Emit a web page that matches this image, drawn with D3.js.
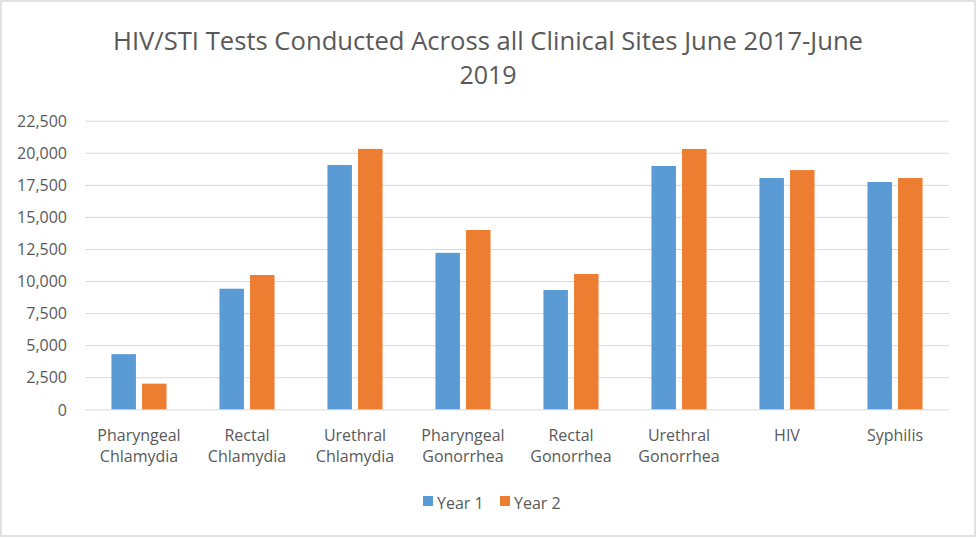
<!DOCTYPE html>
<html lang="en">
<head>
    <meta charset="UTF-8">
    <title>HIV/STI Tests</title>
    <script src="https://cdnjs.cloudflare.com/ajax/libs/d3/7.8.5/d3.min.js"></script>
    <style>
        body { margin: 0; background: #fff; }
        text { font-family: "Open Sans", sans-serif; fill: #595959; }
    </style>
</head>
<body>
<svg id="chart" width="977" height="539"></svg>

<script>

    // DATA
    var categories = [
        ["Pharyngeal", "Chlamydia"],
        ["Rectal", "Chlamydia"],
        ["Urethral", "Chlamydia"],
        ["Pharyngeal", "Gonorrhea"],
        ["Rectal", "Gonorrhea"],
        ["Urethral", "Gonorrhea"],
        ["HIV"],
        ["Syphilis"]
    ];
    var seriesNames = ["Year 1", "Year 2"];
    var year1 = [4300, 9400, 19050, 12200, 9300, 18970, 18030, 17720];
    var year2 = [2000, 10470, 20300, 13980, 10550, 20300, 18650, 18030];
    var yTicks = [0, 2500, 5000, 7500, 10000, 12500, 15000, 17500, 20000, 22500];
    var colors = ["#5b9bd5", "#ed7d31"];

    var svg = d3.select("#chart");

    // plot area
    var plotLeft = 85, plotRight = 949, plotTop = 120.7, plotBottom = 409.3;

    // BORDER
    svg.append("rect")
        .attr("x", 1).attr("y", 1)
        .attr("width", 974).attr("height", 535)
        .style("fill", "#fff")
        .style("stroke", "#d9d9d9")
        .style("stroke-width", 1.5);

    // TITLE
    svg.append("text")
        .attr("x", 488).attr("y", 50)
        .attr("text-anchor", "middle")
        .attr("textLength", 750)
        .attr("lengthAdjust", "spacingAndGlyphs")
        .style("font-size", "25px")
        .text("HIV/STI Tests Conducted Across all Clinical Sites June 2017-June");
    svg.append("text")
        .attr("x", 488).attr("y", 84)
        .attr("text-anchor", "middle")
        .style("font-size", "25px")
        .text("2019");

    // SCALES
    var keys = categories.map(function (d) { return d.join(" "); });

    var x0 = d3.scaleBand()
        .domain(keys)
        .range([plotLeft, plotRight])
        .paddingInner(0.49)
        .paddingOuter(0.245);

    var x1 = d3.scaleBand()
        .domain(seriesNames)
        .range([0, x0.bandwidth()])
        .paddingInner(0.2);

    var y = d3.scaleLinear()
        .domain([0, 22500])
        .range([plotBottom, plotTop]);

    // GRID + Y AXIS
    var yAxis = d3.axisLeft(y)
        .tickValues(yTicks)
        .tickSize(-(plotRight - plotLeft))
        .tickPadding(18)
        .tickFormat(d3.format(","));

    var ga = svg.append("g")
        .attr("transform", "translate(" + plotLeft + ",0)")
        .call(yAxis);
    ga.select(".domain").remove();
    ga.selectAll(".tick line").style("stroke", "#d9d9d9").style("stroke-width", 1);
    ga.selectAll(".tick text")
        .style("font-size", "16px")
        .style("fill", "#595959")
        .style("font-family", "'Open Sans', sans-serif")
        .attr("dy", "0.36em");

    // BARS
    var rows = keys.map(function (k, i) {
        return { key: k, values: [year1[i], year2[i]] };
    });

    var groups = svg.append("g").selectAll("g")
        .data(rows)
        .enter().append("g")
        .attr("transform", function (d) { return "translate(" + x0(d.key) + ",0)"; });

    groups.selectAll("rect")
        .data(function (d) {
            return d.values.map(function (v, j) { return { name: seriesNames[j], value: v, idx: j }; });
        })
        .enter().append("rect")
        .attr("x", function (d) { return x1(d.name); })
        .attr("width", x1.bandwidth())
        .attr("y", function (d) { return y(d.value); })
        .attr("height", function (d) { return y(0) - y(d.value); })
        .style("fill", function (d) { return colors[d.idx]; });

    // X LABELS
    var xl = svg.append("g").selectAll("text")
        .data(categories)
        .enter().append("text")
        .attr("text-anchor", "middle")
        .style("font-size", "16px")
        .attr("x", function (d) { return x0(d.join(" ")) + x0.bandwidth() / 2; })
        .attr("y", 441);

    xl.selectAll("tspan")
        .data(function (d) { return d; })
        .enter().append("tspan")
        .attr("x", function () { return d3.select(this.parentNode).attr("x"); })
        .attr("dy", function (d, i) { return i === 0 ? 0 : 21; })
        .text(function (d) { return d; });

    // LEGEND
    var legendX = [423, 500];
    var lg = svg.append("g").selectAll("g")
        .data(seriesNames)
        .enter().append("g")
        .attr("transform", function (d, i) { return "translate(" + legendX[i] + ",496)"; });

    lg.append("rect")
        .attr("width", 10).attr("height", 10)
        .style("fill", function (d, i) { return colors[i]; });

    lg.append("text")
        .attr("x", 14).attr("y", 13)
        .style("font-size", "16px")
        .text(function (d) { return d; });

</script>
</body>
</html>
